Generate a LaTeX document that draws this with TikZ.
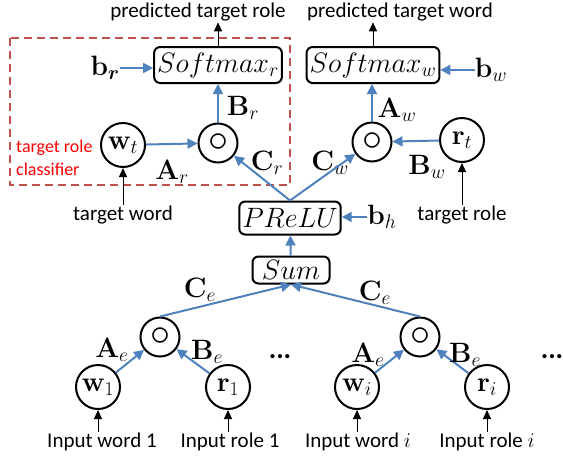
\RequirePackage{fix-cm}
\documentclass[tikz,border=0pt]{standalone}
\usepackage{amsmath,amssymb}
\usepackage{bm}
\usepackage[no-math]{fontspec}
\setmainfont{Carlito}
\usetikzlibrary{arrows.meta}
\definecolor{flowblue}{RGB}{79,129,189}
\definecolor{boxred}{RGB}{192,80,77}
\newcommand{\txtfont}{\fontsize{21}{23}\selectfont}
\newcommand{\mthfont}{\fontsize{28}{30}\selectfont}
\tikzset{
  opbox/.style={draw, line width=2pt, rounded corners=6pt, inner xsep=3pt, inner ysep=0pt, font=\mthfont},
  unit/.style={draw, circle, line width=2pt, minimum size=44pt, inner sep=0pt, font=\mthfont},
  hada/.style={unit, minimum size=39pt, font=\fontsize{40}{40}\selectfont},
  flow/.style={draw=flowblue, line width=2pt, -{Triangle[length=10pt,width=10pt]}},
  feed/.style={line width=1pt, -{Triangle[length=9pt,width=8pt]}},
  lbl/.style={font=\mthfont, inner sep=0pt},
  txt/.style={font=\txtfont, inner sep=1pt},
}

\begin{document}
\begin{tikzpicture}[x=1pt,y=-1pt]
\useasboundingbox (0,0) rectangle (563,459);

% target role classifier
\draw[boxred, line width=2pt, dash pattern=on 8pt off 5pt] (10,38) rectangle (290,185);
\node[txt, red, align=left, anchor=west, font=\fontsize{18}{23}\selectfont] (clf) at (15,158) {target role\\classifier};

% output layer
\node[opbox, minimum height=36pt] (smr) at (218,65) {$Softmax_r$};
\node[opbox, minimum height=36pt] (smw) at (373,65) {$Softmax_w$};
\node[txt] (ptr) at (198,12) {predicted target role};
\node[txt] (ptw) at (400,12) {predicted target word};
\node[lbl] (br) at (105,68) {$\mathbf{b}_{\bm{r}}$};
\node[lbl] (bw) at (491,70) {$\mathbf{b}_w$};
\draw[feed] (smr.north) -- (smr.north |- ptr.south);
\draw[feed] (smw.north) -- (smw.north |- ptw.south);
\draw[flow] (br.east) -- (br.east -| smr.west);
\draw[flow] (bw.west) -- (bw.west -| smw.east);

% products with the target word / role
\node[hada] (hr) at (218,143) {$\circ$};
\node[hada] (hw) at (372,142) {$\circ$};
\node[unit] (wt) at (123,145) {$\mathbf{w}_t$};
\node[unit] (rt) at (462,140) {$\mathbf{r}_t$};
\node[txt] (tw) at (123,215) {target word};
\node[txt] (trl) at (462,215) {target role};
\draw[feed] (wt |- tw.north) -- (wt.south);
\draw[feed] (rt |- trl.north) -- (rt.south);
\draw[flow] (wt) -- (hr);
\draw[flow] (rt) -- (hw);
\draw[flow] (hr) -- (smr);
\draw[flow] (hw) -- (hw |- smw.south);
\node[lbl] (Ar) at (172,172) {$\mathbf{A}_r$};
\node[lbl] (Br) at (243,108) {$\mathbf{B}_r$};
\node[lbl] (Cr) at (267,163) {$\mathbf{C}_r$};
\node[lbl] (Aw) at (397,110) {$\mathbf{A}_w$};
\node[lbl] (Bw) at (427,167) {$\mathbf{B}_w$};
\node[lbl] (Cw) at (330,163) {$\mathbf{C}_w$};

% hidden layer
\node[opbox, minimum height=33pt, minimum width=94pt] (prelu) at (290,218) {$PReLU$};
\node[opbox, minimum height=27pt, minimum width=77pt] (sum) at (291,270) {$Sum$};
\node[lbl] (bh) at (382,217) {$\mathbf{b}_h$};
\draw[flow] (bh.west) -- (bh.west -| prelu.east);
\draw[flow] (sum) -- (prelu);
\draw[flow] (prelu.north) -- (hr);
\draw[flow] (prelu.north) -- (hw);

% input pairs
\node[hada] (h1) at (160,337) {$\circ$};
\node[hada] (hi) at (420,337) {$\circ$};
\node[unit] (w1) at (98,387) {$\mathbf{w}_1$};
\node[unit] (r1) at (228,387) {$\mathbf{r}_1$};
\node[unit] (wi) at (357,387) {$\mathbf{w}_i$};
\node[unit] (ri) at (487,387) {$\mathbf{r}_i$};
\node[txt] (iw1) at (102,442) {Input word 1};
\node[txt] (ir1) at (230,442) {Input role 1};
\node[txt] (iwi) at (358,442) {Input word $i$};
\node[txt] (iri) at (487,442) {Input role $i$};
\foreach \u/\t in {w1/iw1, r1/ir1, wi/iwi, ri/iri} {
  \draw[feed] (\u |- \t.north) -- (\u.south);
}
\foreach \u/\h in {w1/h1, r1/h1, wi/hi, ri/hi} {
  \draw[flow] (\u) -- (\h);
}
\draw[flow] (h1.north) -- (sum.south);
\draw[flow] (hi.north) -- (sum.south);
\node[lbl] (Ce1) at (200,290) {$\mathbf{C}_e$};
\node[lbl] (Cei) at (375,293) {$\mathbf{C}_e$};
\node[lbl] (Ae1) at (112,350) {$\mathbf{A}_e$};
\node[lbl] (Be1) at (207,352) {$\mathbf{B}_e$};
\node[lbl] (Aei) at (368,355) {$\mathbf{A}_e$};
\node[lbl] (Bei) at (465,355) {$\mathbf{B}_e$};
\node[txt, font=\fontsize{28}{28}\selectfont\bfseries] (dots1) at (280,357) {...};
\node[txt, font=\fontsize{28}{28}\selectfont\bfseries] (dots2) at (552,357) {...};
\end{tikzpicture}
\end{document}
